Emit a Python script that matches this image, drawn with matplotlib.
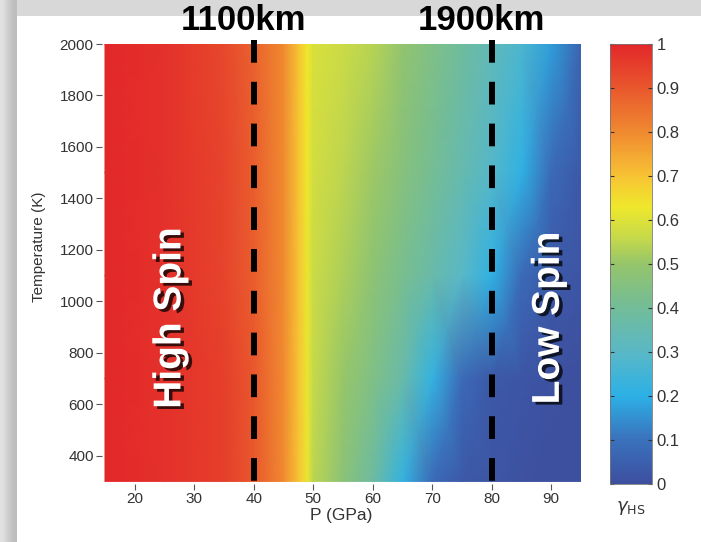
import numpy as np
import matplotlib
matplotlib.use("Agg")
from matplotlib import pyplot as plt
from matplotlib.colors import LinearSegmentedColormap
from matplotlib.patches import Rectangle
import matplotlib.patheffects as pe
from matplotlib.transforms import blended_transform_factory

plt.rcParams["font.family"] = ["Liberation Sans", "DejaVu Sans"]

# pressure nodes (GPa) and temperature nodes (K) of the gamma_HS table
pressure = [15, 25, 35, 40, 45, 47.5, 49, 50, 55, 60, 65, 70, 75, 80, 85, 90, 95]
temperature = [300, 700, 1100, 1500, 2000]

# high-spin fraction, one row per temperature
gamma_hs = [
    [1.00, 0.98, 0.95, 0.90, 0.80, 0.70, 0.62, 0.55, 0.47, 0.38, 0.22, 0.08, 0.03, 0.02, 0.01, 0.00, 0.00],
    [1.00, 0.98, 0.95, 0.90, 0.80, 0.70, 0.62, 0.56, 0.50, 0.44, 0.36, 0.22, 0.08, 0.03, 0.02, 0.01, 0.00],
    [1.00, 0.98, 0.94, 0.89, 0.80, 0.70, 0.62, 0.57, 0.53, 0.48, 0.42, 0.36, 0.30, 0.21, 0.08, 0.03, 0.02],
    [1.00, 0.98, 0.94, 0.89, 0.80, 0.70, 0.63, 0.58, 0.55, 0.51, 0.46, 0.41, 0.35, 0.29, 0.21, 0.08, 0.03],
    [1.00, 0.98, 0.93, 0.88, 0.80, 0.70, 0.63, 0.59, 0.57, 0.54, 0.49, 0.44, 0.39, 0.33, 0.27, 0.17, 0.06],
]

depth_pressure = [40, 80]
depth_labels = ["1100km", "1900km"]

region_labels = ["High Spin", "Low Spin"]
region_pos = [(26, 935), (89.6, 935)]

xticks = [20, 30, 40, 50, 60, 70, 80, 90]
yticks = [400, 600, 800, 1000, 1200, 1400, 1600, 1800, 2000]
cbar_ticks = [0, 0.1, 0.2, 0.3, 0.4, 0.5, 0.6, 0.7, 0.8, 0.9, 1.0]

# printed-jet colours sampled from the colour bar
cmap = LinearSegmentedColormap.from_list("spin", [
    (0.00, "#3d4f9f"),
    (0.10, "#3a72bd"),
    (0.20, "#2cb0e6"),
    (0.30, "#5ab8c6"),
    (0.40, "#72bc98"),
    (0.50, "#95c56a"),
    (0.56, "#c6d94a"),
    (0.63, "#efe82c"),
    (0.70, "#f7c334"),
    (0.80, "#f08a30"),
    (0.90, "#e9582d"),
    (1.00, "#e3282a"),
])

W, H = 701, 542
fig = plt.figure(figsize=(7.01, 5.42), dpi=100)
fig.patch.set_facecolor("#d8d8d8")

# slide-style frame: grey top band, shaded grey strip on the left, white page
bg = fig.add_axes([0, 0, 1, 1], zorder=-10)
bg.set_xlim(0, W)
bg.set_ylim(0, H)
bg.axis("off")
bg.add_patch(Rectangle((17, 0), W, H - 16, facecolor="white", edgecolor="none"))
bg.imshow([[0.88, 0.80, 0.74]], cmap="gray", vmin=0, vmax=1, aspect="auto",
          interpolation="bilinear", extent=(0, 17, 0, H))

ax = fig.add_axes([102 / W, 58 / H, 479 / W, 440 / H])
P, T = np.meshgrid(pressure, temperature)
mesh = ax.pcolormesh(P, T, np.array(gamma_hs), cmap=cmap, vmin=0, vmax=1, shading="gouraud")
ax.set_xlim(14.5, 95)
ax.set_ylim(290, 2000)

for s in ax.spines.values():
    s.set_visible(False)
ax.set_xticks(xticks)
ax.set_yticks(yticks)
ax.tick_params(direction="out", length=4, width=0.8, color="#555555",
               labelcolor="#333333", labelsize=11, pad=2)
ax.set_xlabel("P (GPa)", fontsize=12.5, color="#333333", labelpad=1)
ax.set_ylabel("Temperature (K)", fontsize=11, color="#333333")
ax.yaxis.set_label_coords(-0.117, 0.54)

# depth markers
trans = blended_transform_factory(ax.transData, ax.transAxes)
for p, lab in zip(depth_pressure, depth_labels):
    ax.plot([p, p], [2015, 290], color="black", lw=4.3, dashes=(3.8, 3.2),
            solid_capstyle="butt", dash_capstyle="butt", clip_on=False)
    ax.text(p - 1.7, 1.015, lab, transform=trans, ha="center", va="bottom",
            fontsize=25, fontweight="bold", color="black")

shadow = [pe.withSimplePatchShadow(offset=(2.5, -2), shadow_rgbFace="black", alpha=0.75)]
for (x, y), lab in zip(region_pos, region_labels):
    ax.text(x, y, lab, rotation=90, ha="center", va="center", fontsize=28,
            fontweight="bold", color="white", path_effects=shadow)

# colour bar
cax = fig.add_axes([610 / W, 58 / H, 42 / W, 440 / H])
cb = fig.colorbar(mesh, cax=cax, ticks=cbar_ticks)
cb.outline.set_edgecolor("#777777")
cb.outline.set_linewidth(0.6)
cax.set_yticklabels([f"{t:g}" for t in cbar_ticks])
cax.tick_params(direction="in", length=3, width=0.8, left=True, right=True,
                color="#333333", labelcolor="#333333", labelsize=12)
cax.text(0.5, -0.035, r"$\gamma_{\mathrm{HS}}$", transform=cax.transAxes,
         ha="center", va="top", fontsize=13, color="#333333")

fig.savefig("out.png", dpi=100, facecolor=fig.get_facecolor())
